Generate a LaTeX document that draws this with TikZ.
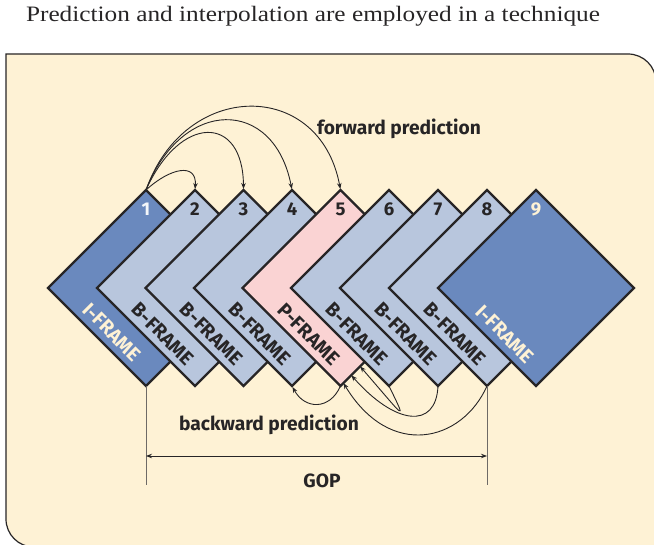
\documentclass[tikz,border=0pt]{standalone}
\usepackage{fontspec}
\usetikzlibrary{shapes.geometric,arrows.meta,calc}
\setmainfont{Liberation Serif}
\newfontfamily\din{Fira Sans}
\definecolor{cream}{HTML}{FEF2D5}
\definecolor{iblue}{HTML}{6A89BE}
\definecolor{bblue}{HTML}{B8C6DD}
\definecolor{ppink}{HTML}{FAD3D3}
\definecolor{ink}{HTML}{272526}
\definecolor{gopgray}{HTML}{6E6A66}
\begin{document}
\begin{tikzpicture}[x=1pt,y=-1pt,
  frame/.style={diamond,draw=ink,line width=2.4pt,minimum width=196pt,minimum height=196pt,inner sep=0pt,outer sep=0pt,aspect=1},
  iframe/.style={frame,fill=iblue},
  bframe/.style={frame,fill=bblue},
  pframe/.style={frame,fill=ppink},
  num/.style={font=\din\bfseries\fontsize{18.5}{18.5}\selectfont,text=ink},
  lbl/.style={font=\din\bfseries\fontsize{19.5}{19.5}\selectfont,text=ink,rotate=-45,inner sep=0pt},
  caption/.style={font=\din\bfseries\fontsize{19.2}{19.2}\selectfont,text=ink},
  arr/.style={draw=ink,line width=0.9pt,-{Stealth[length=6pt,width=4.5pt]}},
  gop/.style={draw=gopgray,line width=0.9pt}]
\useasboundingbox (0,0) rectangle (654,545);
\clip (0,0) rectangle (654,545);

% title
\node[text=ink] (title) at (313,16) {\scalebox{1.15}[1]{\fontsize{22}{22}\selectfont Prediction and interpolation are employed in a technique}};

% panel
\draw[fill=cream,draw=ink,line width=1.2pt]
  (6,54) -- (628,54) .. controls (643.5,54) and (656,66.5) .. (656,82)
  -- (656,560) -- (34,560) -- (34,547) .. controls (18.5,547) and (6,534.5) .. (6,519) -- cycle;

% frames, each one laid over the previous one
\node[iframe] (f1) at (146,288) {};
\node[bframe] (f2) at (195,288) {};
\node[bframe] (f3) at (243.5,288) {};
\node[bframe] (f4) at (292,288) {};
\node[pframe] (f5) at (340.5,288) {};
\node[bframe] (f6) at (389,288) {};
\node[bframe] (f7) at (438,288) {};
\node[bframe] (f8) at (487,288) {};
\node[iframe] (f9) at (536,288) {};

% frame numbers
\node[num,text=white!92!iblue] (n1) at ([yshift=-19pt]f1.north) {1};
\node[num] (n2) at ([yshift=-19pt]f2.north) {2};
\node[num] (n3) at ([yshift=-19pt]f3.north) {3};
\node[num] (n4) at ([yshift=-19pt]f4.north) {4};
\node[num] (n5) at ([yshift=-19pt]f5.north) {5};
\node[num] (n6) at ([yshift=-19pt]f6.north) {6};
\node[num] (n7) at ([yshift=-19pt]f7.north) {7};
\node[num] (n8) at ([yshift=-19pt]f8.north) {8};
\node[num,text=cream] (n9) at ([yshift=-19pt]f9.north) {9};

% frame types along the lower left edges
\node[lbl,text=cream] (t1) at ($(f1.west)+(64,44)$) {I-FRAME};
\node[lbl] (t2) at ($(f2.west)+(66,46)$) {B-FRAME};
\node[lbl] (t3) at ($(f3.west)+(66,46)$) {B-FRAME};
\node[lbl] (t4) at ($(f4.west)+(66,46)$) {B-FRAME};
\node[lbl] (t5) at ($(f5.west)+(66,46)$) {P-FRAME};
\node[lbl] (t6) at ($(f6.west)+(66,46)$) {B-FRAME};
\node[lbl] (t7) at ($(f7.west)+(66,46)$) {B-FRAME};
\node[lbl] (t8) at ($(f8.west)+(66,46)$) {B-FRAME};
\node[lbl,text=cream] (t9) at ($(f9.west)+(67,46)$) {I-FRAME};

% forward prediction
\draw[arr,shorten >=1pt] (f1.north) .. controls (170,168) and (197,162) .. (f2.north);
\draw[arr,shorten >=1pt] (f1.north) .. controls (180,114) and (243,114) .. (f3.north);
\draw[arr,shorten >=1pt] (f1.north) .. controls (182,97) and (274,97) .. (f4.north);
\draw[arr,shorten >=1pt] (f1.north) .. controls (185,79) and (320,79) .. (f5.north);
\node[caption] (fwd) at (399,129) {forward prediction};

% backward prediction
\coordinate (e1) at ($(f5.south)!0.20!(f5.east)$);
\coordinate (e2) at ($(f5.south)!0.11!(f5.east)$);
\coordinate (e3) at ($(f5.south)!0.03!(f5.east)$);
\draw[arr,shorten >=1pt] (f5.south) .. controls (330,410) and (305,410) .. (f4.south);
\draw[arr] (f6.south) .. controls (408,425) and (405,418) .. (e1);
\draw[arr] (f7.south) .. controls (436,430) and (395,425) .. (e2);
\draw[arr] (f8.south) .. controls (462,442) and (390,460) .. (e3);
\node[caption] (bwd) at (269,425) {backward prediction};

% group of pictures
\coordinate (g1) at (146,485);
\coordinate (g2) at (487,485);
\draw[gop] (f1.south) -- (g1);
\draw[gop] (f8.south) -- (g2);
\coordinate (h1) at (146,456);
\coordinate (h2) at (487,456);
\draw[draw=ink,line width=0.9pt,{Stealth[length=6pt,width=4.5pt]}-{Stealth[length=6pt,width=4.5pt]}] (h1) -- (h2);
\node[caption] (gopl) at (322,481) {GOP};
\end{tikzpicture}
\end{document}
